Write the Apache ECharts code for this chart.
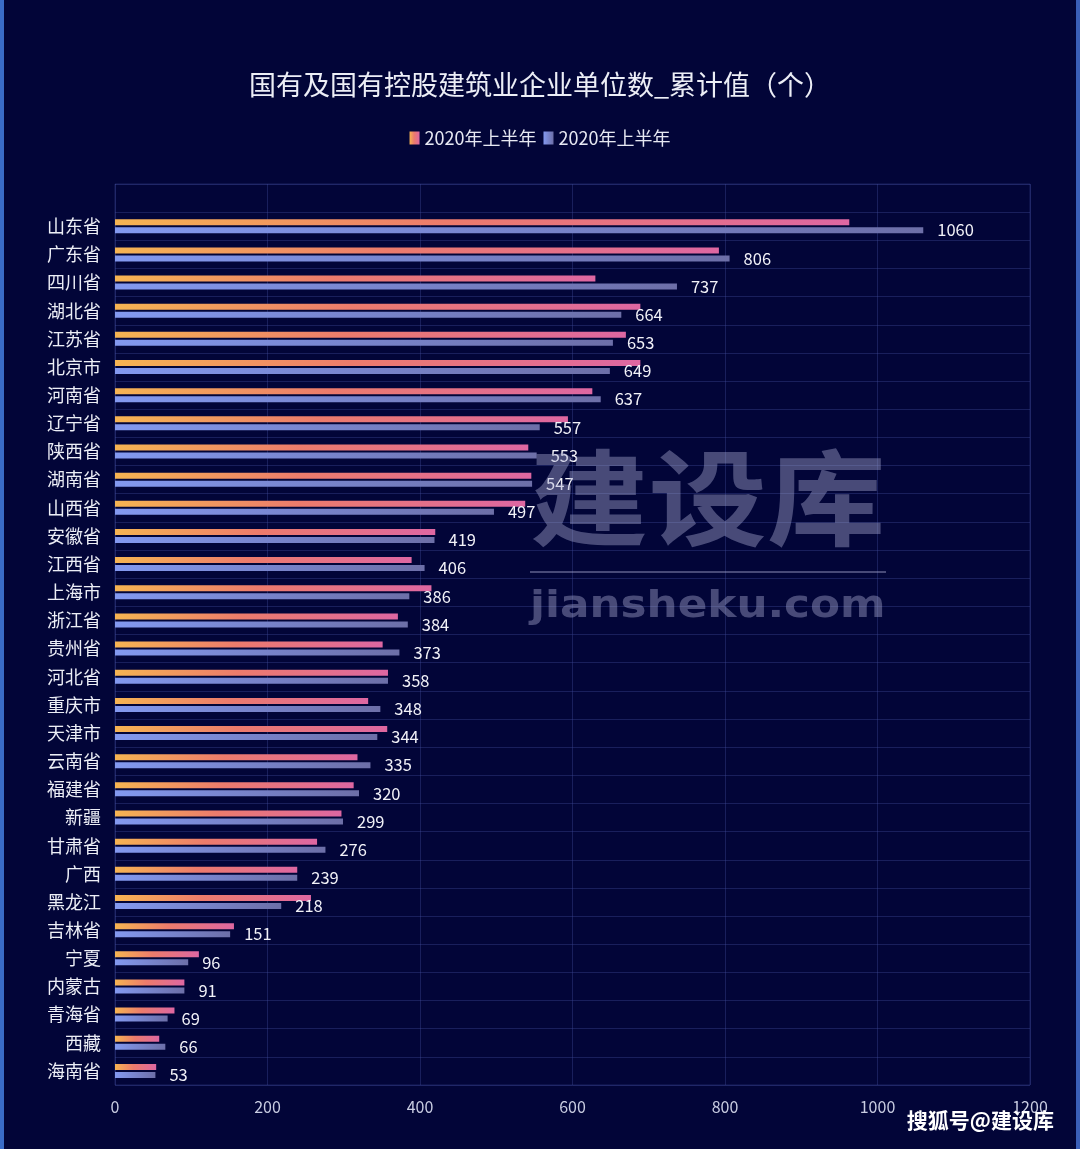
<!DOCTYPE html>
<html>
<head>
<meta charset="utf-8">
<script src="https://cdn.jsdelivr.net/npm/echarts@6/dist/echarts.min.js"></script>
<style>
html,body{margin:0;padding:0;background:#020538;}
#chart{width:1080px;height:1149px;}
</style>
</head>
<body>
<div id="chart"></div>
<script>
// Categories, top to bottom as shown
const provinces = ['山东省','广东省','四川省','湖北省','江苏省','北京市','河南省','辽宁省','陕西省','湖南省','山西省','安徽省','江西省','上海市','浙江省','贵州省','河北省','重庆市','天津市','云南省','福建省','新疆','甘肃省','广西','黑龙江','吉林省','宁夏','内蒙古','青海省','西藏','海南省'];
// First series (orange-pink)
const seriesA = [963,792,630,689,670,689,626,594,542,546,538,420,389,415,371,351,358,332,357,318,313,297,265,239,257,156,110,91,78,58,54];
// Second series (blue), labelled values
const seriesB = [1060,806,737,664,653,649,637,557,553,547,497,419,406,386,384,373,358,348,344,335,320,299,276,239,218,151,96,91,69,66,53];
const legendLabels = ['2020年上半年','2020年上半年'];
const xTicks = [0,200,400,600,800,1000,1200];
const titleText = '国有及国有控股建筑业企业单位数_累计值（个）';

const FONT = '"Noto Sans CJK SC", "Noto Sans", sans-serif';
const chart = echarts.init(document.getElementById('chart'));
const gridLine = 'rgba(70,80,160,0.35)';

const catsBottomUp = provinces.slice().reverse();
const aBottomUp = seriesA.slice().reverse();
const bBottomUp = seriesB.slice().reverse();

chart.setOption({
  backgroundColor: '#020538',
  textStyle: {fontFamily: FONT},
  title: {
    text: titleText,
    left: 'center',
    top: 66,
    textStyle: {color: '#eceef6', fontSize: 27, fontWeight: 'normal', fontFamily: FONT}
  },
  legend: {
    top: 124,
    left: 'center',
    icon: 'rect',
    itemWidth: 10,
    itemHeight: 13,
    itemGap: 7,
    data: ['A','B'],
    formatter: function(n){ return n === 'A' ? legendLabels[0] : legendLabels[1]; },
    textStyle: {color: '#e6e8f2', fontSize: 18, fontFamily: FONT}
  },
  grid: {
    left: 115, right: 50, top: 184, bottom: 64,
    show: true, borderColor: gridLine, borderWidth: 1
  },
  xAxis: {
    type: 'value',
    min: xTicks[0], max: xTicks[xTicks.length-1], interval: 200,
    axisLine: {show: false},
    axisTick: {show: false},
    axisLabel: {color: '#c9cde2', fontSize: 16, margin: 14, fontFamily: FONT,
      formatter: function(v){ return String(v); }},
    splitLine: {show: true, lineStyle: {color: gridLine, width: 1}}
  },
  yAxis: {
    type: 'category',
    data: catsBottomUp,
    max: catsBottomUp.length,
    axisLine: {show: false},
    axisTick: {show: false},
    axisLabel: {color: '#eceef6', fontSize: 18, margin: 14, fontFamily: FONT,
      formatter: function(v){ return v == null ? '' : v; }},
    splitLine: {show: true, lineStyle: {color: gridLine, width: 1}}
  },
  series: [
    {
      name: 'A', type: 'bar', data: aBottomUp, barWidth: 6, barGap: '33%',
      itemStyle: {color: new echarts.graphic.LinearGradient(0,0,1,0,[
        {offset: 0, color: '#f6b452'},
        {offset: 0.45, color: '#ec7b6c'},
        {offset: 1, color: '#de67a2'}
      ])}
    },
    {
      name: 'B', type: 'bar', data: bBottomUp, barWidth: 6,
      itemStyle: {color: new echarts.graphic.LinearGradient(0,0,1,0,[
        {offset: 0, color: '#8399f0'},
        {offset: 1, color: '#6d6fa8'}
      ])},
      label: {show: true, position: 'right', distance: 14, color: '#f2f2f8', fontSize: 16.5, fontFamily: FONT}
    }
  ],
  graphic: [
    {type: 'rect', left: 0, top: 0, shape: {width: 4, height: 1149}, style: {fill: '#3a6cc8'}, silent: true},
    {type: 'rect', right: 0, top: 0, shape: {width: 4, height: 1149}, style: {fill: '#3a5fb8'}, silent: true},
    {type: 'text', x: 530, y: 446, scaleX: 1.14, style: {text: '建设库', fill: 'rgba(170,172,210,0.42)', font: 'bold 104px "Noto Sans CJK SC"'}, silent: true, z: 100},
    {type: 'rect', left: 530, top: 571, shape: {width: 356, height: 2}, style: {fill: 'rgba(170,172,210,0.42)'}, silent: true, z: 100},
    {type: 'text', x: 530, y: 588, scaleX: 1.15, style: {text: 'jiansheku.com', fill: 'rgba(170,172,210,0.42)', font: 'bold 38px "DejaVu Sans"'}, silent: true, z: 100},
    {type: 'text', right: 26, top: 1110, style: {text: '搜狐号@建设库', fill: '#ffffff', font: 'bold 21px "Noto Sans CJK SC"', shadowBlur: 3, shadowColor: 'rgba(0,0,0,0.8)'}, silent: true, z: 100}
  ]
});
</script>
</body>
</html>
